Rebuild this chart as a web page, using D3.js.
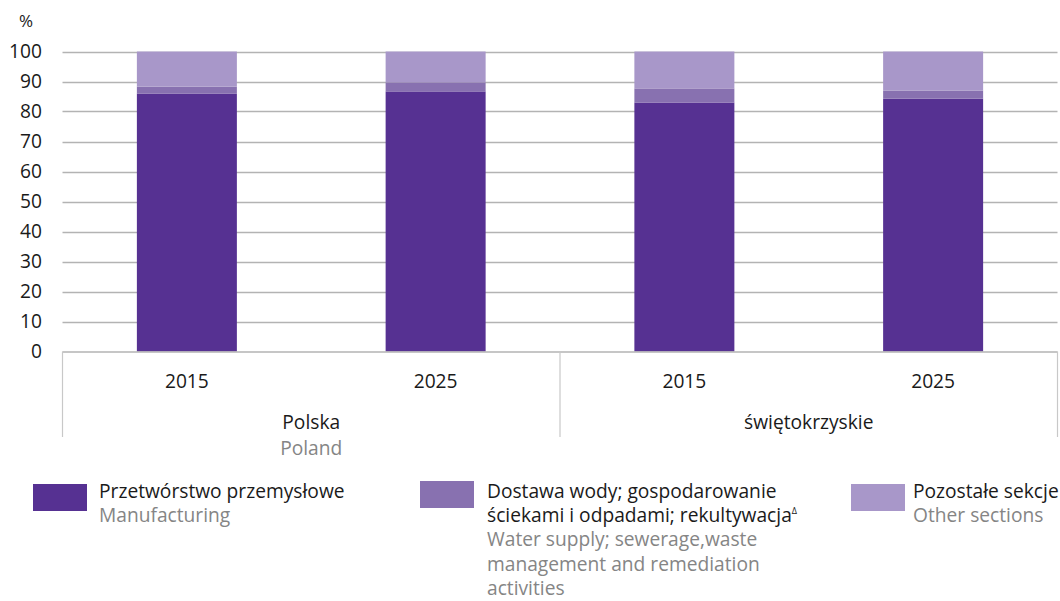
<!DOCTYPE html>
<html><head><meta charset="utf-8">
<script src="https://cdn.jsdelivr.net/npm/d3@7"></script>
<style>body{margin:0;background:#fff}svg{font-family:"Open Sans",sans-serif}</style>
</head><body><svg id="c" width="1060" height="601"></svg>
<script>
const groups = ["Polska", "świętokrzyskie"];
const groupsEn = ["Poland", ""];
const years = ["2015", "2025"];
const categories = [["Polska","2015"],["Polska","2025"],["świętokrzyskie","2015"],["świętokrzyskie","2025"]];
const manufacturing = [86.0, 86.7, 83.0, 84.3];
const waterSupply = [2.3, 3.0, 4.7, 2.7];
const otherSections = [11.7, 10.3, 12.3, 13.0];
const yTicks = [0,10,20,30,40,50,60,70,80,90,100];
const colors = ["#563192","#8871b0","#a897c9"];

const FS = 19.2;
const svg = d3.select("#c");
const L = 62.5, R = 1057.5, T = 51.5, B = 351.5;
const keys = categories.map((c,i)=>i);
const x = d3.scaleBand().domain(keys).range([L,R]).paddingInner(0.598).paddingOuter(0.299);
const y = d3.scaleLinear().domain([0,100]).range([B,T]);

// gridlines
svg.append("g").selectAll("line").data(yTicks.filter(d=>d>0)).join("line")
  .attr("x1",L).attr("x2",R).attr("y1",d=>Math.round(y(d))+0.5).attr("y2",d=>Math.round(y(d))+0.5)
  .attr("stroke","#b3b3b3").attr("stroke-width",1.3);
// y labels
svg.append("g").selectAll("text").data(yTicks).join("text")
  .attr("x",42).attr("y",d=>y(d)+6.5).attr("text-anchor","end").attr("font-size",FS).attr("fill","#1a1a1a").text(d=>d);
svg.append("text").attr("x",26).attr("y",27).attr("font-size",17).attr("fill","#1a1a1a").attr("text-anchor","middle").text("%");

// stacks
const data = keys.map(i=>({i, m:manufacturing[i], w:waterSupply[i], o:otherSections[i]}));
const stack = d3.stack().keys(["m","w","o"])(data);
svg.append("g").selectAll("g").data(stack).join("g").attr("fill",(d,k)=>colors[k])
  .selectAll("rect").data(d=>d).join("rect")
  .attr("x",d=>x(d.data.i)).attr("width",x.bandwidth())
  .attr("y",d=>y(d[1])).attr("height",d=>y(d[0])-y(d[1]));

// baseline and separators
svg.append("line").attr("x1",L).attr("x2",R).attr("y1",B+0.5).attr("y2",B+0.5).attr("stroke","#b3b3b3").attr("stroke-width",1.3);
const step = x.step();
const sepX = [L, L + 2*step, R];
svg.append("g").selectAll("line").data(sepX).join("line")
  .attr("x1",d=>d).attr("x2",d=>d).attr("y1",B).attr("y2",437).attr("stroke","#c8c8c8").attr("stroke-width",1.2);
// year labels
svg.append("g").selectAll("text").data(categories).join("text")
  .attr("x",(d,i)=>x(i)+x.bandwidth()/2).attr("y",388).attr("text-anchor","middle")
  .attr("font-size",FS).attr("fill","#1a1a1a").text(d=>d[1]);
// group labels
groups.forEach((g,gi)=>{
  const cx = L + step*(2*gi+1);
  svg.append("text").attr("x",cx).attr("y",429).attr("text-anchor","middle").attr("font-size",FS).attr("fill","#1a1a1a").text(g);
  if (groupsEn[gi]) svg.append("text").attr("x",cx).attr("y",455).attr("text-anchor","middle").attr("font-size",FS).attr("fill","#858585").text(groupsEn[gi]);
});

// legend
const legend = [
  {x:33, sy:484, tx:99, lines:[["Przetwórstwo przemysłowe","#1a1a1a"],["Manufacturing","#858585"]]},
  {x:420, sy:481, tx:487, lines:[["Dostawa wody; gospodarowanie","#1a1a1a"],["ściekami i odpadami; rekultywacja","#1a1a1a",true],["Water supply; sewerage,waste","#858585"],["management and remediation","#858585"],["activities","#858585"]]},
  {x:851, sy:484, tx:913, lines:[["Pozostałe sekcje","#1a1a1a"],["Other sections","#858585"]]}
];
legend.forEach((l,k)=>{
  svg.append("rect").attr("x",l.x).attr("y",l.sy).attr("width",54).attr("height",27).attr("fill",colors[k]);
  l.lines.forEach((ln,j)=>{
    const t = svg.append("text").attr("x",l.tx).attr("y",497.5 + j*24.4).attr("font-size",FS).attr("fill",ln[1]).text(ln[0]);
    if (ln[2]) t.append("tspan").attr("font-size",9).attr("dy",-8).text("Δ");
  });
});
</script></body></html>
